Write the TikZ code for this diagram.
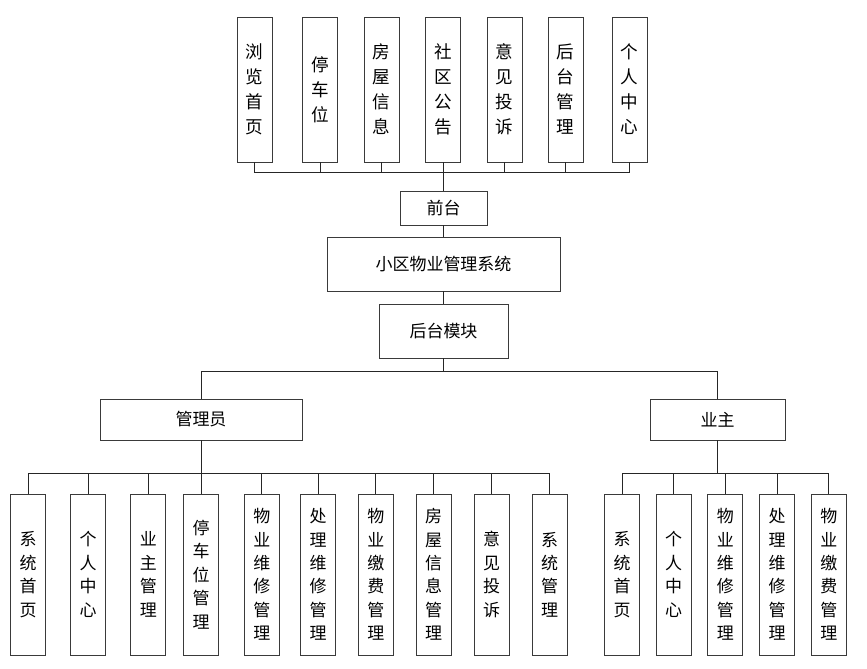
\documentclass[tikz,border=0pt]{standalone}
\usepackage{fontspec}
\setmainfont{Noto Sans CJK SC}
\usepackage{tikz}
\usetikzlibrary{positioning}
\definecolor{BoxLine}{HTML}{3A3A3A}
\definecolor{WireLine}{HTML}{262626}

\begin{document}
\begin{tikzpicture}[x=0.03cm, y=-0.03cm, line width=0.8pt,
  hbox/.style={draw=BoxLine, fill=white, inner sep=0pt, font=\fontsize{14.5}{16}\selectfont},
  topcol/.style={draw=BoxLine, fill=white, inner sep=0pt, minimum width=1.05cm, minimum height=4.35cm, align=center, font=\fontsize{15}{21.3}\selectfont},
  lowcol/.style={draw=BoxLine, fill=white, inner sep=0pt, minimum width=1.05cm, minimum height=4.83cm, align=center, font=\fontsize{14.5}{20}\selectfont},
  wire/.style={draw=WireLine}]

\useasboundingbox (0,0) rectangle (867,668);

% front-end pages
\node[topcol] (t1) at (254.5,89.5) {浏\\览\\首\\页};
\node[topcol] (t2) at (320,89.5) {停\\车\\位};
\node[topcol] (t3) at (381.5,89.5) {房\\屋\\信\\息};
\node[topcol] (t4) at (443,89.5) {社\\区\\公\\告};
\node[topcol] (t5) at (504.5,89.5) {意\\见\\投\\诉};
\node[topcol] (t6) at (565.5,89.5) {后\\台\\管\\理};
\node[topcol] (t7) at (629.5,89.5) {个\\人\\中\\心};

% spine
\node[hbox, minimum width=2.61cm, minimum height=1.02cm] (front) at (443.5,208) {前台};
\node[hbox, minimum width=6.99cm, minimum height=1.62cm] (sys) at (443.5,264) {小区物业管理系统};
\node[hbox, minimum width=3.87cm, minimum height=1.62cm] (back) at (443.5,331) {后台模块};

\node[hbox, minimum width=6.06cm, minimum height=1.23cm] (admin) at (201,419.5) {管理员};
\node[hbox, minimum width=4.05cm, minimum height=1.23cm] (owner) at (717.5,419.5) {业主};

% admin functions
\node[lowcol] (a1) at (28,574.5) {系\\统\\首\\页};
\node[lowcol] (a2) at (88,574.5) {个\\人\\中\\心};
\node[lowcol] (a3) at (148.3,574.5) {业\\主\\管\\理};
\node[lowcol] (a4) at (201,574.5) {停\\车\\位\\管\\理};
\node[lowcol] (a5) at (261.8,574.5) {物\\业\\维\\修\\管\\理};
\node[lowcol] (a6) at (318,574.5) {处\\理\\维\\修\\管\\理};
\node[lowcol] (a7) at (375.8,574.5) {物\\业\\缴\\费\\管\\理};
\node[lowcol] (a8) at (433.6,574.5) {房\\屋\\信\\息\\管\\理};
\node[lowcol] (a9) at (491.7,574.5) {意\\见\\投\\诉};
\node[lowcol] (a10) at (549.5,574.5) {系\\统\\管\\理};

% owner functions
\node[lowcol] (o1) at (622,574.5) {系\\统\\首\\页};
\node[lowcol] (o2) at (673.7,574.5) {个\\人\\中\\心};
\node[lowcol] (o3) at (725.3,574.5) {物\\业\\维\\修\\管\\理};
\node[lowcol] (o4) at (777,574.5) {处\\理\\维\\修\\管\\理};
\node[lowcol] (o5) at (828.8,574.5) {物\\业\\缴\\费\\管\\理};

% buses
\coordinate (topbus) at (443.5,172);
\coordinate (midbus) at (443.5,371);
\coordinate (adminbus) at (201,473.7);
\coordinate (ownerbus) at (717.5,473.7);

\draw[wire] (front.north) -- (front.north |- topbus);
\draw[wire] (t1.south) |- (topbus);
\draw[wire] (t2.south) |- (topbus);
\draw[wire] (t3.south) |- (topbus);
\draw[wire] (t4.south) -- (t4.south |- topbus);
\draw[wire] (t5.south) |- (topbus);
\draw[wire] (t6.south) |- (topbus);
\draw[wire] (t7.south) |- (topbus);

\draw[wire] (front.south) -- (sys.north -| front.south);
\draw[wire] (sys.south) -- (back.north);
\draw[wire] (back.south) -- (midbus);
\draw[wire] (admin.north) |- (midbus);
\draw[wire] (owner.north) |- (midbus);

\draw[wire] (admin.south) -- (adminbus);
\draw[wire] (a1.north) |- (adminbus);
\draw[wire] (a2.north) |- (adminbus);
\draw[wire] (a3.north) |- (adminbus);
\draw[wire] (a4.north) -- (adminbus);
\draw[wire] (a5.north) |- (adminbus);
\draw[wire] (a6.north) |- (adminbus);
\draw[wire] (a7.north) |- (adminbus);
\draw[wire] (a8.north) |- (adminbus);
\draw[wire] (a9.north) |- (adminbus);
\draw[wire] (a10.north) |- (adminbus);

\draw[wire] (owner.south) -- (ownerbus);
\draw[wire] (o1.north) |- (ownerbus);
\draw[wire] (o2.north) |- (ownerbus);
\draw[wire] (o3.north) |- (ownerbus);
\draw[wire] (o4.north) |- (ownerbus);
\draw[wire] (o5.north) |- (ownerbus);
\end{tikzpicture}
\end{document}
